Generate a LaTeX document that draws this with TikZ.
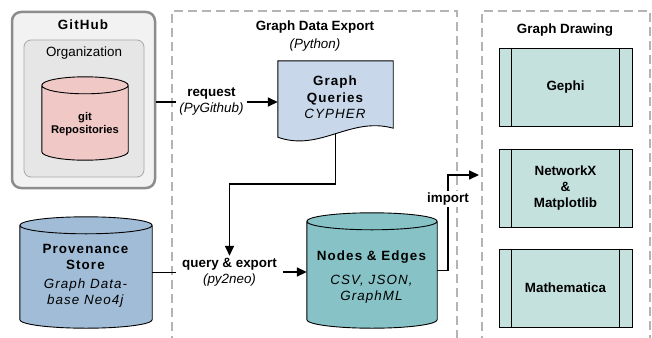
\documentclass[tikz,border=0pt]{standalone}
\usepackage{fontspec}
\setmainfont{Liberation Sans}
\newfontfamily\trackfont[LetterSpace=8]{Liberation Sans}
\usepackage{tikz}
\usetikzlibrary{calc}
\usetikzlibrary{arrows.meta}

\definecolor{zonegray}{HTML}{B4B4B4}
\definecolor{ghfill}{HTML}{F2F2F2}
\definecolor{ghline}{HTML}{8C8C8C}
\definecolor{orgfill}{HTML}{E6E6E6}
\definecolor{orgline}{HTML}{A8A8A8}
\definecolor{repofill}{HTML}{F0C8C6}
\definecolor{provfill}{HTML}{A0BCD6}
\definecolor{edgefill}{HTML}{86C2C6}
\definecolor{queryfill}{HTML}{C8D8EA}
\definecolor{toolfill}{HTML}{C5E1DE}

\newcommand{\dbshape}[2]{%
  \draw[line width=0.9pt, fill=#2] let \p1=(#1.north west), \p2=(#1.south east), \n1={(\x2-\x1)/2} in
    (\x1,\y1-8.5pt) -- (\x1,\y2+8.5pt)
    arc[start angle=180, end angle=360, x radius=\n1*1pt, y radius=8.5pt]
    -- (\x2,\y1-8.5pt)
    arc[start angle=0, end angle=180, x radius=\n1*1pt, y radius=8.5pt] -- cycle
    (\x1,\y1-8.5pt) arc[start angle=180, end angle=360, x radius=\n1*1pt, y radius=8.5pt];}

\begin{document}
\begin{tikzpicture}[x=1pt, y=-1pt, font=\fontsize{13.4}{16}\selectfont,
  zone/.style={draw=zonegray, line width=1.5pt, dash pattern=on 9pt off 5pt},
  link/.style={line width=1.6pt},
  flow/.style={line width=1.6pt, -{Triangle[length=10pt,width=9pt]}},
  db/.style={inner sep=0pt},
  tool/.style={draw, fill=toolfill, line width=0.8pt, minimum width=133, minimum height=78, align=center, font=\fontsize{13.4}{16}\selectfont\bfseries},
  lbl/.style={align=center, inner xsep=3pt, inner ysep=2pt}]
  \useasboundingbox (0,0) rectangle (652,337);

  \draw[zone] (172,345) |- (457,11) -- (457,345);
  \draw[zone] (482,345) |- (650,11) -- (650,345);
  \node[font=\fontsize{13.4}{16}\selectfont\bfseries] (exporttitle) at (315,27) {Graph Data Export};
  \node[font=\fontsize{13.4}{16}\selectfont\itshape] (exportlang) at (315,45) {(Python)};
  \node[font=\fontsize{13.4}{16}\selectfont\bfseries] (drawtitle) at (565,30) {Graph Drawing};

  \node[draw=ghline, fill=ghfill, line width=2.5pt, rounded corners=9pt, minimum width=143, minimum height=176] (github) at (83.5,100) {};
  \node[font=\fontsize{13.4}{16}\selectfont\trackfont\bfseries] (ghtitle) at (83,25) {GitHub};
  \node[draw=orgline, fill=orgfill, line width=0.8pt, rounded corners=7pt, minimum width=120, minimum height=137] (org) at (84,108.5) {};
  \node (orgtitle) at (84,53) {Organization};
  \node[db, minimum width=86, minimum height=83] (repo) at (85,118.5) {};
  \dbshape{repo}{repofill}
  \node[align=center, font=\fontsize{11.2}{13}\selectfont\bfseries] (repotext) at (85,124) {git\\Repositories};

  \node[db, minimum width=132, minimum height=111] (prov) at (86,272.5) {};
  \dbshape{prov}{provfill}
  \node[align=center, font=\fontsize{13.4}{16}\selectfont\trackfont] (provtext) at (86,276)
    {\textbf{Provenance}\\\textbf{Store}\\[3pt]\textit{Graph Data-}\\\textit{base Neo4j}};

  \node[db, minimum width=130, minimum height=115] (edges) at (372,270.5) {};
  \dbshape{edges}{edgefill}
  \node[align=center, font=\fontsize{13.4}{16}\selectfont\trackfont] (edgetext) at (372,277)
    {\textbf{Nodes \& Edges}\\[8pt]\textit{CSV, JSON,}\\\textit{GraphML}};

  \node[db, minimum width=115, minimum height=73] (queries) at (335.5,97.5) {};

  \node[lbl] (req) at (211.5,102) {\textbf{request}\\\textit{(PyGithub)}};
  \node[lbl, inner xsep=6pt] (qe) at (229.5,272) {\textbf{query \& export}\\\textit{(py2neo)}};
  \node[fill=white, inner sep=2pt, font=\fontsize{13.4}{16}\selectfont\bfseries] (imp) at (448,199) {import};
  \coordinate (drawin) at (479,175);

  \draw[link] (github.east |- req.west) -- (req.west);
  \draw[flow] (req.east) -- (req.east -| queries.west);
  \draw[flow] (queries.south) -- ++(0,50) -| (qe.north);
  \draw[link] (prov.east) -- (prov.east -| qe.west);
  \draw[flow] (qe.east) -- (qe.east -| edges.west);
  \draw[link] (edges.east) -| (imp.south);
  \draw[flow] (imp.north) |- (drawin);

  \draw[line width=0.9pt, fill=queryfill] (queries.north west) -- (queries.north east) -- ($(queries.south east)+(0,-6)$)
    .. controls ($(queries.south)+(14.5,-18)$) and ($(queries.south)+(-15.5,18)$) .. ($(queries.south west)+(0,3)$) -- cycle;
  \node[align=center, font=\fontsize{13.4}{16.5}\selectfont\trackfont] (querytext) at (queries) {\textbf{Graph}\\\textbf{Queries}\\\textit{CYPHER}};

  \foreach \n/\y/\t in {gephi/87/Gephi, nx/188/{NetworkX\\\&\\Matplotlib}, mma/288/Mathematica} {
    \node[tool] (\n) at (565.5,\y) {\t};
    \draw[line width=0.8pt] ($(\n.north west)+(13,0)$) -- ($(\n.south west)+(13,0)$);
    \draw[line width=0.8pt] ($(\n.north east)+(-13,0)$) -- ($(\n.south east)+(-13,0)$);
  }
\end{tikzpicture}
\end{document}
